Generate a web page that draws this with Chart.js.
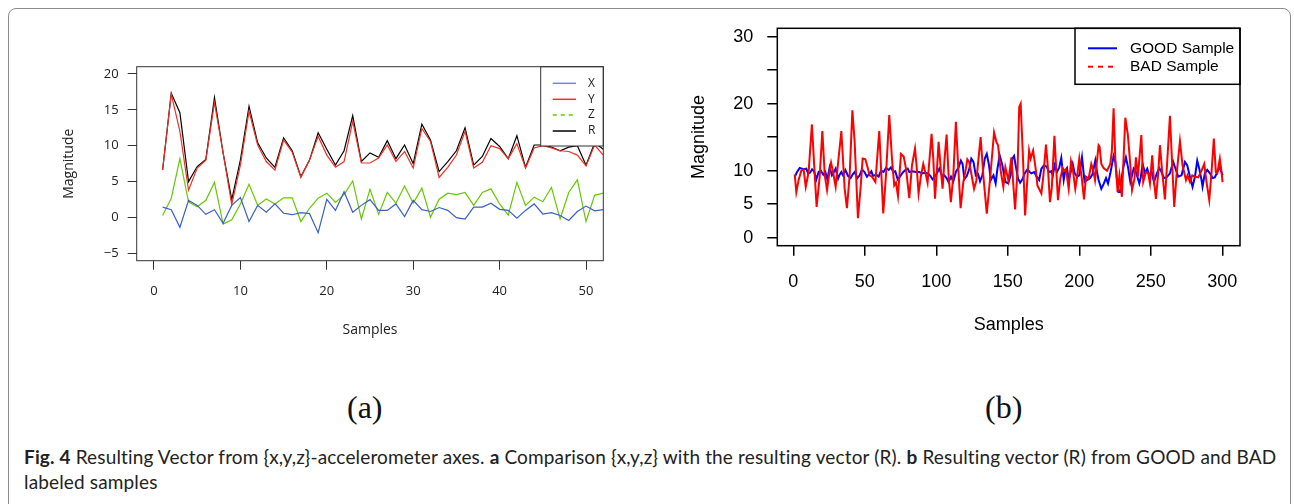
<!DOCTYPE html>
<html>
    <head>
        <meta charset="utf-8">
        <script src="https://cdn.jsdelivr.net/npm/chart.js@4.4.1/dist/chart.umd.min.js"></script>
        <title>Resulting vector</title>
        <style>
            body { margin:0; background:#fff; width:1294px; height:504px; overflow:hidden; position:relative; }
            #frame { position:absolute; left:8px; top:8px; width:1281px; height:600px; border:1px solid #8c8c8c; border-radius:8px; }
            canvas { position:absolute; top:0; }
            .tag { position:absolute; top:389px; font-family:"Liberation Serif", serif; font-size:32px; color:#111; }
            #caption { position:absolute; left:24px; top:444px; font-family:Lato, sans-serif; font-size:19px; letter-spacing:0.15px; line-height:25px; color:#222; white-space:nowrap; }
        </style>
    </head>
    <body>
        <div id="frame"></div>
        <canvas id="chartA" width="620" height="360" style="left:0px"></canvas>
        <canvas id="chartB" width="614" height="360" style="left:680px"></canvas>
        <div class="tag" style="left:347px">(a)</div>
        <div class="tag" style="left:985px">(b)</div>
        <div id="caption"><b>Fig. 4</b> Resulting Vector from {x,y,z}-accelerometer axes. <b>a</b> Comparison {x,y,z} with the resulting vector (R). <b>b</b> Resulting vector (R) from GOOD and BAD<br>labeled samples</div>

        <script type="text/javascript">
            // panel (a): x, y, z components and resulting vector R
            var samplesA = [1,2,3,4,5,6,7,8,9,10,11,12,13,14,15,16,17,18,19,20,21,22,23,24,25,26,
                            27,28,29,30,31,32,33,34,35,36,37,38,39,40,41,42,43,44,45,46,47,48,49,50,51,52];
            var xAxis = [1.45,1.1,-1.35,2.4,1.7,0.45,1.1,-0.8,1.7,2.8,-0.55,1.7,0.75,1.9,0.6,0.4,0.7,0.55,-2.1,2.55,
                         1.0,3.6,0.75,1.7,2.5,1.0,1.0,1.9,0.15,2.4,1.1,0.85,1.4,1.0,0.0,-0.2,1.45,1.45,2.0,1.15,
                         1.0,-0.1,1.0,1.9,0.5,0.7,0.3,-0.4,0.85,1.6,0.95,1.1];
            var yAxis = [6.65,17.2,12.0,3.8,6.9,8.0,16.0,9.0,1.8,7.3,14.8,10.1,7.8,6.6,10.8,9.1,5.6,8.0,11.3,8.7,
                         7.0,7.8,13.4,7.6,7.6,8.3,10.1,7.8,9.2,6.9,12.4,10.6,5.6,7.0,8.7,12.0,6.9,7.7,10.0,9.6,
                         8.2,10.3,6.9,9.7,10.0,9.7,9.3,9.2,8.7,7.2,10.1,8.7];
            var zAxis = [0.3,2.7,8.2,2.2,1.5,2.4,4.9,-0.9,-0.3,1.9,4.65,1.7,2.6,1.9,2.75,2.75,-0.55,1.3,2.7,3.4,
                         2.1,3.2,5.1,-0.2,3.95,0.45,3.5,2.0,4.4,2.0,4.1,0.05,2.55,3.4,3.2,3.5,1.7,3.5,4.0,1.9,
                         0.35,4.9,1.7,2.85,2.2,4.2,-0.2,3.5,5.25,-0.55,3.1,3.4];
            var rVector = [6.65,17.3,14.6,5.0,7.1,8.1,16.7,9.0,2.5,8.0,15.5,10.4,8.3,7.0,11.1,9.3,5.7,8.0,11.8,9.5,
                           7.3,9.3,14.2,7.8,9.0,8.4,10.7,8.2,10.1,7.5,13.0,10.8,6.4,7.8,9.3,12.5,7.3,8.5,11.0,9.9,
                           8.2,11.4,7.0,10.1,10.1,9.8,9.3,9.8,10.0,7.3,10.4,9.5];
            var xTicksA = [0,10,20,30,40,50];
            var yTicksA = [-5,0,5,10,15,20];

            // panel (b): resulting vector of a GOOD and a BAD labeled sample
            var goodSamples = [1.0,2.6,4.5,6.0,7.5,9.1,10.3,11.7,13.1,14.5,16.1,17.7,19.2,21.0,22.4,23.8,25.4,27.0,28.4,29.6,
                31.3,32.4,33.6,34.8,36.4,38.3,40.1,41.7,42.9,44.8,46.4,48.0,49.8,51.5,53.4,54.6,55.7,58.0,59.7,61.3,
                63.1,64.8,66.7,68.3,69.9,71.3,73.0,74.6,76.4,78.3,80.0,81.1,83.4,85.7,88.1,90.0,92.3,93.9,95.6,97.4,
                99.3,100.9,102.1,103.3,104.4,105.6,107.2,108.6,110.3,111.9,113.7,115.6,117.2,118.4,119.6,121.3,123.0,124.5,126.0,127.6,
                129.2,130.6,132.2,133.9,135.3,136.9,138.1,140.0,141.5,142.7,144.3,146.2,147.4,148.5,150.2,152.0,153.2,154.4,155.5,157.2,
                158.6,160.2,161.8,163.7,165.3,166.5,168.4,170.2,171.9,173.5,175.3,177.2,178.8,180.4,181.5,182.8,184.4,186.0,187.4,189.1,
                190.2,191.4,192.6,193.8,195.4,196.8,198.4,200.0,201.9,203.7,205.4,207.7,209.3,211.2,212.4,213.5,215.4,217.0,218.7,220.1,
                221.7,224.0,225.2,226.3,227.5,228.7,229.8,230.9,232.6,234.0,235.7,236.9,238.0,239.6,242.0,243.0,244.3,246.0,247.5,249.0,
                250.6,252.2,254.1,255.9,257.5,259.2,261.0,263.4,265.7,267.6,269.2,271.5,273.9,275.5,277.4,279.2,280.9,282.5,283.9,285.5,
                286.2,287.8,289.5,291.4,293.2,294.8,296.5,298.3,300.2];
            var goodValues = [9.1,9.8,10.4,10.3,10.2,10.3,9.6,9.7,10.2,9.9,8.7,9.8,10.0,9.4,9.8,8.7,10.5,9.3,9.8,10.3,
                8.8,9.4,9.8,9.3,10.1,9.2,8.9,9.5,9.8,8.9,9.3,10.2,9.8,9.1,9.6,9.9,9.2,9.4,9.1,10.0,
                9.8,10.4,10.1,10.5,9.8,9.9,8.7,9.1,9.7,10.1,10.3,9.8,9.9,9.8,9.8,9.6,9.7,9.6,9.3,8.7,
                9.2,9.8,10.3,9.6,9.1,9.3,8.9,8.3,9.1,8.4,9.8,10.5,11.5,11.0,8.7,9.2,10.2,11.8,11.3,9.3,
                9.5,8.4,9.3,11.8,12.5,10.8,8.6,9.3,8.1,10.2,12.3,10.8,9.3,8.3,8.1,9.3,11.8,12.2,10.8,8.8,
                8.2,8.7,9.6,10.2,9.8,9.6,9.8,9.1,8.6,10.3,10.8,10.6,9.8,9.9,9.3,10.8,9.8,10.5,11.9,8.6,
                10.0,10.4,8.6,9.6,11.0,9.6,9.1,9.3,12.0,8.3,8.6,8.9,9.5,11.5,9.8,8.6,7.3,8.0,8.9,8.1,
                9.6,12.2,11.3,8.8,6.8,6.8,9.1,10.6,12.0,10.6,8.3,9.3,10.3,9.8,8.1,9.0,11.0,9.6,10.3,9.3,
                9.8,8.3,9.5,10.4,9.8,8.9,9.0,9.6,11.3,10.1,9.1,9.3,11.3,10.8,9.1,7.6,9.1,11.5,10.3,8.6,
                7.6,9.6,10.1,9.6,8.9,9.0,9.8,10.5,9.3];
            var badSamples = [1.0,2.1,3.8,5.6,7.2,8.7,10.7,13.0,15.0,16.3,18.4,20.3,22.0,23.6,25.4,26.4,27.8,29.6,33.6,35.9,
                37.5,39.4,41.3,42.9,45.2,47.1,48.5,50.4,51.8,53.4,55.0,57.4,60.1,62.9,64.8,67.1,69.0,70.6,71.8,73.2,
                75.3,77.2,78.8,81.1,83.0,85.1,86.2,87.6,89.3,90.9,92.8,93.9,96.7,97.9,99.1,100.5,101.6,103.3,104.4,105.8,
                107.2,108.6,110.2,111.9,113.7,115.4,117.0,118.9,120.7,121.7,123.0,126.4,128.0,131.0,133.0,135.3,137.5,140.4,142.0,143.2,
                145.0,146.9,148.3,150.5,152.5,155.1,156.8,158.0,159.0,160.6,162.1,163.7,164.9,166.0,167.7,169.5,170.7,173.5,174.9,176.7,
                178.1,179.5,180.8,182.6,183.8,185.1,186.7,188.4,189.6,190.7,192.6,194.2,195.4,197.2,198.4,200.0,201.9,203.3,204.7,206.5,
                208.4,209.8,211.0,213.5,214.2,215.4,217.0,219.4,221.7,222.8,224.0,225.2,226.8,228.1,229.8,232.2,234.0,235.7,236.9,238.6,
                239.6,241.0,243.4,244.7,246.6,248.2,249.4,251.0,252.2,253.6,255.2,256.4,258.0,259.9,261.0,263.4,264.5,266.4,268.0,270.4,
                272.2,274.6,275.7,277.4,279.0,280.9,283.2,285.5,287.4,289.0,290.9,292.5,294.1,295.5,296.5,298.3,299.5,300.2];
            var badValues = [9.4,6.8,8.7,10.0,10.2,7.6,9.8,16.9,9.3,4.6,9.0,15.9,9.3,7.1,10.0,11.2,9.8,7.6,15.9,7.3,
                4.4,9.3,19.0,14.3,2.9,7.6,11.8,11.7,10.6,9.3,9.1,8.3,15.9,3.6,9.3,18.3,11.8,7.8,8.2,6.2,
                12.5,12.1,10.3,5.9,10.8,13.3,10.8,6.6,9.3,11.0,9.3,8.2,15.5,11.8,5.8,10.3,14.3,9.8,7.3,11.8,
                15.4,9.3,5.3,9.3,17.3,10.3,4.4,8.3,10.3,11.7,11.3,7.3,8.5,15.0,9.0,3.6,8.5,15.7,14.3,13.8,
                10.0,7.6,10.5,8.5,12.0,4.2,10.0,19.5,20.0,12.0,3.3,8.8,13.0,11.8,13.0,10.3,7.8,6.6,9.3,13.9,
                10.3,5.3,7.5,15.2,10.5,5.6,8.8,10.4,10.0,10.2,7.3,11.4,10.3,7.3,9.0,11.8,8.6,5.7,9.1,8.8,
                11.0,10.0,8.6,13.8,13.6,11.0,10.4,10.0,11.0,13.0,19.3,11.8,6.8,9.3,6.1,17.9,15.3,10.8,7.1,8.8,
                12.0,9.1,15.3,8.3,9.8,9.6,8.1,12.3,8.6,5.8,9.6,13.8,9.8,5.7,9.6,18.2,13.0,4.6,9.3,14.4,
                10.8,8.6,9.3,8.3,9.3,9.1,9.0,10.0,11.0,8.3,5.6,9.8,14.8,9.8,9.6,11.8,9.8,8.3];
            var xTicksB = [0,50,100,150,200,250,300];
            var yTicksB = [0,5,10,15,20,25,30];
            var yLabelsB = ["0","5","10","","20","","30"];

            function pairs(xs, ys){
                return xs.map(function(x, i){ return {x: x, y: ys[i]}; });
            }

            // R style box around the plot region plus an inset legend at the top right
            var rBox = {
                id: "rbox",
                afterDatasetsDraw: function(chart, args, opts){
                    var ctx = chart.ctx, a = chart.chartArea;
                    ctx.save();
                    if (opts.entries){
                        var bx = a.right - opts.w, by = a.top;
                        ctx.fillStyle = "#fff";
                        ctx.fillRect(bx, by, opts.w, opts.h);
                        ctx.strokeStyle = opts.boxColor;
                        ctx.lineWidth = opts.boxWidth;
                        ctx.strokeRect(bx, by, opts.w, opts.h);
                        ctx.font = opts.font;
                        ctx.textBaseline = "middle";
                        opts.entries.forEach(function(e){
                            ctx.beginPath();
                            ctx.setLineDash(e.dash || []);
                            ctx.strokeStyle = e.color;
                            ctx.lineWidth = opts.lineWidth;
                            ctx.moveTo(bx + opts.x1, by + e.dy);
                            ctx.lineTo(bx + opts.x2, by + e.dy);
                            ctx.stroke();
                            ctx.setLineDash([]);
                            ctx.fillStyle = opts.textColor;
                            ctx.fillText(e.text, bx + opts.tx, by + e.dy);
                        });
                    }
                    ctx.strokeStyle = opts.boxColor;
                    ctx.lineWidth = opts.boxWidth;
                    ctx.strokeRect(a.left, a.top, a.right - a.left, a.bottom - a.top);
                    ctx.restore();
                }
            };

            var fontA = {family: "'Open Sans', sans-serif", size: 13};
            var fontB = {family: "'Liberation Sans', Arial, sans-serif", size: 18};

            var chartA = new Chart(document.getElementById("chartA"), {
                type: "line",
                data: {
                    datasets: [
                        {label: "X", data: pairs(samplesA, xAxis), borderColor: "#3c5ec8", borderWidth: 1.2},
                        {label: "Y", data: pairs(samplesA, yAxis), borderColor: "#ee3124", borderWidth: 1.2},
                        {label: "Z", data: pairs(samplesA, zAxis), borderColor: "#66c800", borderWidth: 1.2},
                        {label: "R", data: pairs(samplesA, rVector), borderColor: "#000000", borderWidth: 1.2}
                    ]
                },
                options: {
                    responsive: false,
                    animation: false,
                    elements: {point: {radius: 0}, line: {tension: 0}},
                    layout: {padding: {top: 66.7, right: 16.7, left: 0, bottom: 0}},
                    plugins: {
                        legend: {display: false},
                        tooltip: {enabled: false},
                        rbox: {
                            boxColor: "#333", boxWidth: 1, w: 62.6, h: 79.3,
                            x1: 12, x2: 35.3, tx: 47.3, lineWidth: 1.5,
                            font: "12px 'Open Sans', sans-serif", textColor: "#222",
                            entries: [
                                {text: "X", color: "#6d8ad6", dy: 16.6},
                                {text: "Y", color: "#ee3124", dy: 32.6},
                                {text: "Z", color: "#66c800", dy: 48.3, dash: [4, 4]},
                                {text: "R", color: "#000000", dy: 64.3}
                            ]
                        }
                    },
                    scales: {
                        x: {
                            type: "linear", min: -2, max: 52,
                            afterBuildTicks: function(s){ s.ticks = xTicksA.map(function(v){ return {value: v}; }); },
                            afterFit: function(s){ s.height = 99.3; },
                            grid: {drawOnChartArea: false, drawTicks: true, tickLength: 9, color: "#333"},
                            border: {display: false},
                            ticks: {autoSkip: false, maxRotation: 0, padding: 14, font: fontA, color: "#222"},
                            title: {display: true, text: "Samples", font: {family: fontA.family, size: 14}, color: "#222", padding: {top: 0, bottom: 21.6}}
                        },
                        y: {
                            type: "linear", min: -6, max: 21,
                            afterBuildTicks: function(s){ s.ticks = yTicksA.map(function(v){ return {value: v}; }); },
                            afterFit: function(s){ s.width = 136.7; },
                            grid: {drawOnChartArea: false, drawTicks: true, tickLength: 9, color: "#333"},
                            border: {display: false},
                            ticks: {autoSkip: false, padding: 9, font: fontA, color: "#222",
                                callback: function(v){ return v < 0 ? "\u2212" + Math.abs(v) : String(v); }},
                            title: {display: true, text: "Magnitude", font: {family: fontA.family, size: 14}, color: "#222", padding: {top: 60.6, bottom: 0}}
                        }
                    }
                },
                plugins: [rBox]
            });

            var chartB = new Chart(document.getElementById("chartB"), {
                type: "line",
                data: {
                    datasets: [
                        {label: "BAD Sample", data: pairs(badSamples, badValues), borderColor: "#ff0000", borderWidth: 2},
                        {label: "GOOD Sample", data: pairs(goodSamples, goodValues), borderColor: "#0000ff", borderWidth: 2}
                    ]
                },
                options: {
                    responsive: false,
                    animation: false,
                    elements: {point: {radius: 0}, line: {tension: 0}},
                    layout: {padding: {top: 28.3, right: 54, left: 0, bottom: 0}},
                    plugins: {
                        legend: {display: false},
                        tooltip: {enabled: false},
                        rbox: {
                            boxColor: "#000", boxWidth: 1.5, w: 165, h: 56,
                            x1: 13, x2: 42, tx: 55, lineWidth: 2,
                            font: "15.5px 'Liberation Sans', Arial, sans-serif", textColor: "#000",
                            entries: [
                                {text: "GOOD Sample", color: "#0000ff", dy: 20},
                                {text: "BAD Sample", color: "#ff0000", dy: 38.4, dash: [5, 5]}
                            ]
                        }
                    },
                    scales: {
                        x: {
                            type: "linear", min: -11.2, max: 312.4,
                            afterBuildTicks: function(s){ s.ticks = xTicksB.map(function(v){ return {value: v}; }); },
                            afterFit: function(s){ s.height = 114.3; },
                            grid: {drawOnChartArea: false, drawTicks: true, tickLength: 10, color: "#000", lineWidth: 1.5},
                            border: {display: false},
                            ticks: {autoSkip: false, maxRotation: 0, padding: 16, font: fontB, color: "#000"},
                            title: {display: true, text: "Samples", font: fontB, color: "#000", padding: {top: 0, bottom: 23.8}}
                        },
                        y: {
                            type: "linear", min: -1.2, max: 31.25,
                            afterBuildTicks: function(s){ s.ticks = yTicksB.map(function(v){ return {value: v}; }); },
                            afterFit: function(s){ s.width = 97.3; },
                            grid: {drawOnChartArea: false, drawTicks: true, tickLength: 10, color: "#000", lineWidth: 1.5},
                            border: {display: false},
                            ticks: {autoSkip: false, padding: 14, font: fontB, color: "#000",
                                callback: function(v){ return yLabelsB[yTicksB.indexOf(v)]; }},
                            title: {display: true, text: "Magnitude", font: fontB, color: "#000", padding: {top: 7.8, bottom: 0}}
                        }
                    }
                },
                plugins: [rBox]
            });
        </script>
    </body>
</html>
